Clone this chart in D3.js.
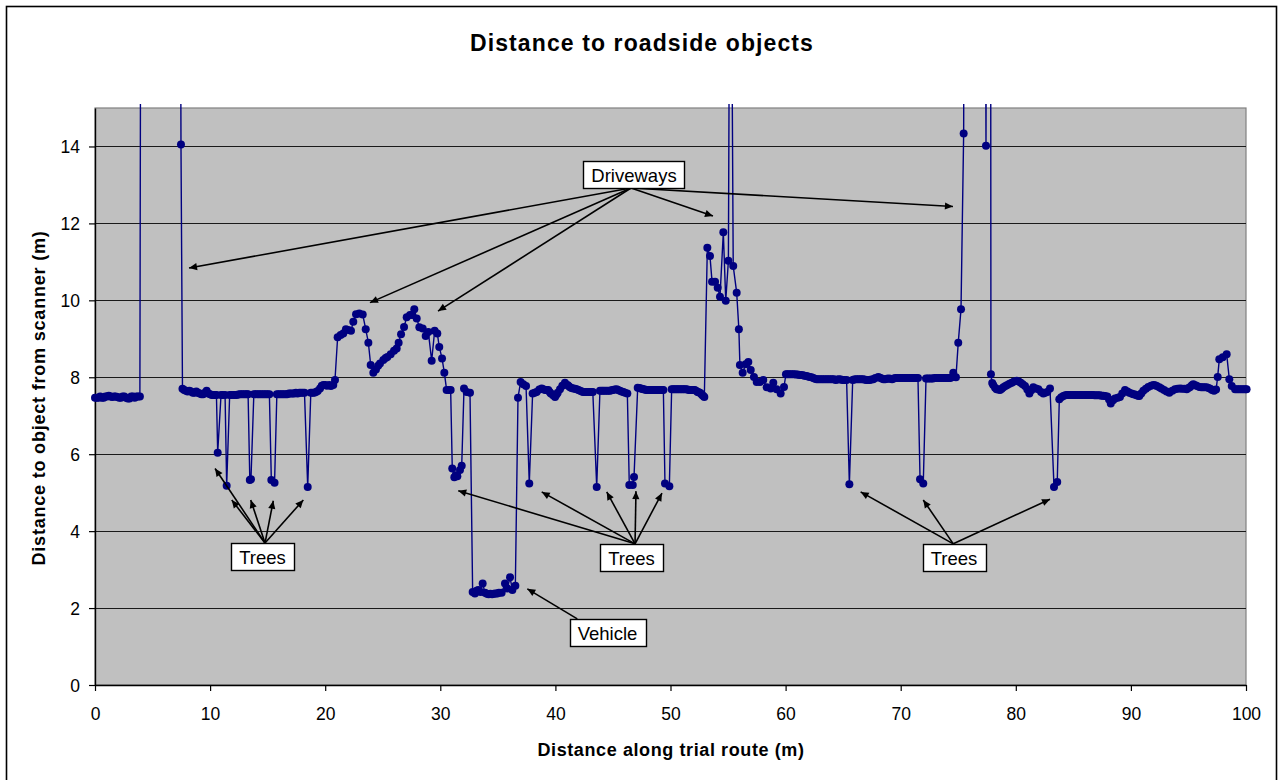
<!DOCTYPE html>
<html><head><meta charset="utf-8">
<script src="https://cdn.jsdelivr.net/npm/d3@7"></script>
<style>body{margin:0;background:#fff}svg{display:block;font-family:"Liberation Sans",Arial,sans-serif}</style>
</head><body><svg id="c" width="1284" height="780"></svg>
<script>
// ---- data: [distance along route (m), distance to object (m)] ----
const scanPoints = [
[0,7.47],[0.15,7.47],[0.3,7.47],[0.45,7.5],[0.6,7.47],[0.75,7.47],[0.9,7.5],[1.05,7.5],[1.2,7.52],[1.35,7.5],[1.5,7.49],[1.65,7.5],[1.8,7.5],[1.95,7.49],[2.1,7.47],[2.25,7.47],[2.4,7.5],[2.55,7.5],[2.7,7.47],[2.85,7.45],[3.0,7.45],[3.15,7.5],[3.3,7.5],[3.45,7.47],[3.6,7.5],[3.75,7.5],[3.9,7.5],
[4.0,24],[5.5,25],[7.38,24],
[7.47,14.05],[7.6,7.7],[7.75,7.67],[7.9,7.65],[8.05,7.63],[8.2,7.65],[8.35,7.63],[8.5,7.6],[8.65,7.6],[8.8,7.63],[8.95,7.6],[9.1,7.58],[9.25,7.56],[9.4,7.56],[9.55,7.6],[9.7,7.65],[9.85,7.58],[10.0,7.56],[10.15,7.54],[10.3,7.54],[10.45,7.54],[10.55,7.54],[10.66,6.04],[10.95,7.54],[11.1,7.54],[11.3,7.54],[11.44,5.18],[11.7,7.54],[11.85,7.54],[12.0,7.54],[12.15,7.54],[12.3,7.54],[12.45,7.55],[12.6,7.56],[12.75,7.56],[12.9,7.56],[13.05,7.56],[13.2,7.56],[13.3,7.56],[13.45,5.33],[13.55,5.35],[13.8,7.56],[13.95,7.56],[14.1,7.56],[14.25,7.56],[14.4,7.56],[14.55,7.56],[14.7,7.56],[14.85,7.56],[15.0,7.56],[15.15,7.56],[15.32,5.33],[15.6,5.26],[15.8,7.56],[15.95,7.56],[16.1,7.56],[16.25,7.56],[16.4,7.56],[16.55,7.56],[16.7,7.56],[16.85,7.58],[17.0,7.58],[17.15,7.58],[17.3,7.58],[17.45,7.6],[17.6,7.58],[17.75,7.6],[17.9,7.6],[18.05,7.6],[18.2,7.6],[18.48,5.15],[18.75,7.6],[18.9,7.6],[19.05,7.6],[19.2,7.62],[19.35,7.64],[19.55,7.71],[19.7,7.78],[19.85,7.8],[20.0,7.8],[20.15,7.78],[20.35,7.8],[20.5,7.77],[20.7,7.8],[20.85,7.93],
[21.08,9.04],[21.34,9.1],[21.57,9.14],[21.8,9.25],[22.0,9.23],[22.24,9.21],[22.44,9.44],[22.68,9.64],[22.96,9.66],[23.26,9.63],[23.52,9.25],[23.75,8.9],[23.95,8.32],[24.18,8.12],[24.41,8.2],[24.6,8.3],[24.76,8.36],[25.05,8.45],[25.25,8.5],[25.4,8.53],[25.69,8.6],[25.98,8.69],[26.21,8.75],[26.38,8.9],[26.59,9.12],[26.85,9.31],[27.08,9.56],[27.37,9.62],[27.55,9.62],[27.74,9.77],[27.95,9.53],[28.18,9.3],[28.47,9.27],[28.73,9.07],[28.96,9.18],[29.25,8.43],[29.51,9.21],[29.74,9.14],[29.91,8.79],[30.15,8.49],[30.35,8.12],[30.55,7.67],[30.75,7.67],[30.9,7.67],
[31.04,5.63],[31.22,5.4],[31.35,5.45],[31.48,5.43],[31.71,5.59],[31.86,5.7],[32.06,7.71],[32.29,7.62],[32.58,7.6],
[32.81,2.42],[33.01,2.38],[33.15,2.45],[33.3,2.47],[33.5,2.42],[33.68,2.64],[33.88,2.4],[34.05,2.37],[34.2,2.36],[34.35,2.37],[34.5,2.36],[34.65,2.37],[34.8,2.38],[34.95,2.38],[35.1,2.4],[35.33,2.4],[35.62,2.64],[35.83,2.51],[36.06,2.8],[36.26,2.47],[36.52,2.58],
[36.75,7.47],[36.98,7.88],[37.21,7.82],[37.45,7.77],[37.73,5.24],[38.02,7.58],[38.2,7.6],[38.37,7.62],[38.6,7.68],[38.81,7.71],[38.95,7.69],[39.1,7.67],[39.25,7.67],[39.38,7.67],[39.5,7.62],[39.6,7.58],[39.8,7.53],[39.97,7.49],[40.1,7.55],[40.2,7.6],[40.4,7.69],[40.6,7.78],[40.83,7.86],[41.05,7.8],[41.15,7.77],[41.27,7.74],[41.4,7.72],[41.55,7.71],[41.7,7.7],[41.85,7.69],[42.0,7.67],[42.15,7.65],[42.3,7.63],[42.42,7.62],[42.55,7.62],[42.7,7.62],[42.85,7.62],[43.0,7.62],[43.12,7.62],[43.25,7.62],[43.59,5.15],[43.87,7.65],[44.02,7.65],[44.15,7.65],[44.3,7.65],[44.45,7.65],[44.6,7.65],[44.74,7.65],[44.88,7.66],[45.0,7.67],[45.15,7.68],[45.32,7.69],[45.45,7.67],[45.6,7.65],[45.75,7.63],[45.9,7.62],[46.05,7.6],[46.25,7.58],[46.42,5.2],[46.72,5.2],[46.83,5.41],[47.15,7.73],[47.28,7.72],[47.4,7.71],[47.52,7.7],[47.64,7.69],[47.77,7.68],[47.9,7.67],[48.02,7.67],[48.15,7.67],[48.28,7.67],[48.4,7.67],[48.52,7.67],[48.65,7.67],[48.78,7.67],[48.9,7.67],[49.02,7.67],[49.15,7.67],[49.27,7.67],[49.38,7.67],[49.52,5.24],[49.9,5.17],[50.1,7.69],[50.22,7.69],[50.35,7.69],[50.48,7.69],[50.6,7.69],[50.72,7.69],[50.85,7.69],[50.98,7.69],[51.1,7.69],[51.22,7.69],[51.35,7.69],[51.48,7.68],[51.6,7.67],[51.72,7.67],[51.85,7.67],[51.98,7.67],[52.1,7.67],[52.22,7.65],[52.35,7.62],[52.45,7.61],[52.56,7.6],[52.65,7.57],[52.75,7.54],[52.85,7.51],[52.94,7.49],
[53.2,11.37],[53.43,11.15],[53.61,10.48],[53.87,10.48],[54.1,10.33],[54.3,10.09],[54.59,11.77],[54.8,9.99],[55.03,11.03],[55.2,24],[55.45,10.89],[55.75,10.2],[55.94,9.25],[56.03,8.32],[56.27,8.12],[56.53,8.34],[56.76,8.4],[56.97,8.19],[57.25,8.01],[57.49,7.88],[57.77,7.88],[58.06,7.93],[58.36,7.74],[58.7,7.71],[58.93,7.86],[59.22,7.69],[59.57,7.58],[59.86,7.75],
[60.03,8.08],[60.15,8.08],[60.3,8.08],[60.45,8.08],[60.6,8.08],[60.75,8.08],[60.9,8.07],[61.05,8.07],[61.2,8.06],[61.35,8.06],[61.5,8.05],[61.65,8.04],[61.8,8.03],[61.95,8.02],[62.1,8.01],[62.25,8.0],[62.4,7.98],[62.55,7.96],[62.7,7.95],[62.85,7.95],[63.0,7.95],[63.15,7.95],[63.3,7.95],[63.45,7.95],[63.6,7.95],[63.75,7.95],[63.9,7.95],[64.05,7.95],[64.2,7.95],[64.35,7.93],[64.5,7.94],[64.65,7.95],[64.8,7.94],[64.95,7.93],[65.1,7.93],[65.3,7.93],[65.54,5.22],[65.83,7.93],[65.95,7.94],[66.1,7.95],[66.25,7.95],[66.4,7.95],[66.55,7.95],[66.7,7.95],[66.85,7.94],[67.0,7.93],[67.15,7.93],[67.3,7.93],[67.45,7.94],[67.62,7.95],[67.8,7.98],[68.05,8.01],[68.2,7.99],[68.35,7.97],[68.5,7.95],[68.65,7.95],[68.8,7.96],[68.95,7.97],[69.1,7.96],[69.25,7.95],[69.4,7.97],[69.55,7.98],[69.7,7.98],[69.85,7.98],[70.0,7.98],[70.15,7.98],[70.3,7.98],[70.45,7.98],[70.6,7.98],[70.75,7.98],[70.9,7.98],[71.05,7.98],[71.2,7.98],[71.35,7.98],[71.5,7.98],[71.68,5.35],[71.96,5.24],[72.2,7.97],[72.35,7.97],[72.5,7.97],[72.65,7.97],[72.8,7.97],[72.95,7.98],[73.1,7.98],[73.25,7.98],[73.4,7.98],[73.55,7.98],[73.7,7.98],[73.85,7.98],[74.0,7.98],[74.15,7.98],[74.3,7.98],[74.45,8.0],[74.57,8.12],[74.8,8.0],[75.0,8.9],[75.24,9.77],[75.47,14.34],
[75.55,26],[77.3,26],[77.41,14.02],[77.5,26],[77.8,26],
[77.84,8.08],[77.95,7.85],[78.04,7.8],[78.2,7.73],[78.33,7.69],[78.48,7.68],[78.63,7.67],[78.78,7.7],[78.92,7.74],[79.1,7.77],[79.26,7.8],[79.45,7.83],[79.65,7.86],[79.85,7.89],[80.08,7.91],[80.25,7.89],[80.43,7.86],[80.6,7.82],[80.8,7.77],[81.0,7.68],[81.18,7.58],[81.35,7.66],[81.52,7.74],[81.75,7.71],[81.96,7.69],[82.2,7.62],[82.39,7.58],[82.55,7.6],[82.74,7.62],[82.97,7.71],[83.32,5.15],[83.6,5.28],
[83.78,7.43],[83.95,7.48],[84.13,7.51],[84.3,7.53],[84.45,7.54],[84.6,7.54],[84.75,7.54],[84.9,7.54],[85.05,7.54],[85.2,7.54],[85.35,7.54],[85.5,7.54],[85.65,7.54],[85.8,7.54],[85.95,7.54],[86.1,7.54],[86.25,7.54],[86.4,7.54],[86.55,7.54],[86.7,7.54],[86.85,7.53],[87.0,7.53],[87.15,7.53],[87.3,7.53],[87.45,7.52],[87.6,7.52],[87.75,7.51],[87.95,7.5],[88.1,7.42],[88.25,7.32],[88.45,7.4],[88.62,7.45],[88.85,7.47],[89.05,7.49],[89.25,7.58],[89.49,7.67],[89.7,7.63],[89.86,7.6],
[90.05,7.58],[90.21,7.56],[90.35,7.55],[90.5,7.53],[90.62,7.52],[90.73,7.51],[90.9,7.58],[91.08,7.65],[91.3,7.7],[91.51,7.75],[91.75,7.78],[91.95,7.8],[92.1,7.79],[92.25,7.77],[92.47,7.74],[92.65,7.71],[92.88,7.67],[93.1,7.63],[93.34,7.6],[93.6,7.65],[93.83,7.69],[94.05,7.7],[94.27,7.71],[94.45,7.7],[94.65,7.7],[94.85,7.69],[95.0,7.72],[95.15,7.75],[95.3,7.79],[95.42,7.82],[95.6,7.79],[95.75,7.77],[95.95,7.75],[96.1,7.74],[96.25,7.74],[96.4,7.74],[96.58,7.74],[96.75,7.72],[96.9,7.7],[97.05,7.67],[97.22,7.65],[97.4,7.68],
[97.54,8.01],[97.68,8.47],[97.98,8.52],[98.32,8.6],[98.55,7.95],[98.76,7.77],[99.05,7.69],[99.2,7.69],[99.35,7.69],[99.5,7.69],[99.65,7.69],[99.8,7.69],[99.95,7.69],[100.05,7.69]
];
const xTicks = [0,10,20,30,40,50,60,70,80,90,100];
const yTicks = [0,2,4,6,8,10,12,14];
const chartTitle = "Distance to roadside objects";
const xTitle = "Distance along trial route (m)";
const yTitle = "Distance to object from scanner (m)";

// annotations (data units, metres)
const noteLabels = ["Driveways","Trees","Trees","Trees","Vehicle"];
const noteBoxX   = [46.83, 14.55, 46.61, 74.63, 44.53];
const noteBoxTop = [13.62, 3.69, 3.67, 3.67, 1.72];
const noteFromX  = [46.57, 14.77, 46.92, 74.57, 41.9];
const noteFromY  = [12.92, 3.69, 3.67, 3.67, 1.72];
const noteTargets = [
  [[8.17,10.84],[23.89,9.94],[29.8,9.72],[53.69,12.19],[74.54,12.44]],
  [[10.43,5.63],[11.88,4.81],[13.53,4.81],[15.49,4.79],[18.1,4.81]],
  [[31.56,5.05],[38.81,5.02],[44.46,5.02],[47.0,5.04],[49.26,4.99]],
  [[66.52,5.02],[71.96,4.81],[82.97,4.83]],
  [[37.56,2.5]]
];

// ---- drawing ----
const svg = d3.select("#c");
const x = d3.scaleLinear().domain([0,100]).range([95,1246]);
const y = d3.scaleLinear().domain([0,15]).range([685,108]);

svg.append("rect").attr("x",6.5).attr("y",6.5).attr("width",1270).attr("height",800)
  .attr("fill","#fff").attr("stroke","#000").attr("stroke-width",1.6);

svg.append("rect").attr("x",x(0)).attr("y",y(15)).attr("width",x(100)-x(0)).attr("height",y(0)-y(15))
  .attr("fill","#c0c0c0").attr("stroke","#808080").attr("stroke-width",1.2);

svg.append("g").selectAll("line").data(yTicks.filter(d=>d>0)).join("line")
  .attr("x1",x(0)).attr("x2",x(100))
  .attr("y1",d=>Math.round(y(d))+0.5).attr("y2",d=>Math.round(y(d))+0.5)
  .attr("stroke","#1a1a1a").attr("stroke-width",1.2);

const yAxis = svg.append("g").attr("transform",`translate(${x(0)},0)`)
  .call(d3.axisLeft(y).tickValues(yTicks).tickSizeInner(6).tickSizeOuter(0).tickPadding(9).tickFormat(d3.format("d")));
const xAxis = svg.append("g").attr("transform",`translate(0,${y(0)})`)
  .call(d3.axisBottom(x).tickValues(xTicks).tickSizeInner(6).tickSizeOuter(0).tickPadding(17).tickFormat(d3.format("d")));
[yAxis,xAxis].forEach(g=>{
  g.selectAll("path.domain").attr("stroke","#000").attr("stroke-width",1.4);
  g.selectAll(".tick line").attr("stroke","#000").attr("stroke-width",1.2);
  g.selectAll(".tick text").attr("fill","#000").style("font-size","17.5px").style("font-family",'"Liberation Sans",Arial,sans-serif');
});
yAxis.selectAll(".tick text").attr("dy","0.36em");

// series
svg.append("defs").append("clipPath").attr("id","clipTop").append("rect")
  .attr("x",0).attr("y",104).attr("width",1284).attr("height",600);
const series = svg.append("g").attr("clip-path","url(#clipTop)");
series.append("path").datum(scanPoints)
  .attr("d",d3.line().x(d=>x(d[0])).y(d=>y(d[1])))
  .attr("fill","none").attr("stroke","#000080").attr("stroke-width",1.4);
series.selectAll("circle").data(scanPoints).join("circle")
  .attr("cx",d=>x(d[0])).attr("cy",d=>y(d[1])).attr("r",4).attr("fill","#000080");

// arrows
const defs = svg.select("defs");
defs.append("marker").attr("id","ah").attr("viewBox","0 0 10 10").attr("refX",10).attr("refY",5)
  .attr("markerWidth",10).attr("markerHeight",8).attr("markerUnits","userSpaceOnUse").attr("orient","auto")
  .append("path").attr("d","M0,0.5 L10,5 L0,9.5 Z").attr("fill","#000");
const notes = noteLabels.map((t,i)=>({t,bx:noteBoxX[i],bt:noteBoxTop[i],fx:noteFromX[i],fy:noteFromY[i],tg:noteTargets[i]}));
const arrowG = svg.append("g");
notes.forEach(n=>{
  n.tg.forEach(p=>{
    arrowG.append("line").attr("x1",x(n.fx)).attr("y1",y(n.fy)).attr("x2",x(p[0])).attr("y2",y(p[1]))
      .attr("stroke","#000").attr("stroke-width",1.6).attr("marker-end","url(#ah)");
  });
});
const boxG = svg.append("g");
notes.forEach(n=>{
  const g = boxG.append("g");
  const r = g.append("rect");
  const tx = g.append("text").attr("x",x(n.bx)).attr("y",y(n.bt)+21).attr("text-anchor","middle")
    .style("font-size","18.5px").attr("fill","#000").text(n.t);
  const bb = tx.node().getBBox();
  r.attr("x",Math.round(x(n.bx)-bb.width/2-8)+0.5).attr("y",Math.round(y(n.bt))+0.5)
   .attr("width",Math.round(bb.width+16)).attr("height",27)
   .attr("fill","#fff").attr("stroke","#000").attr("stroke-width",1.4);
});

// titles
svg.append("text").attr("x",642).attr("y",51).attr("text-anchor","middle")
  .style("font-size","23px").style("font-weight","bold").style("letter-spacing","1.1px").text(chartTitle);
svg.append("text").attr("x",671).attr("y",756).attr("text-anchor","middle")
  .style("font-size","18px").style("font-weight","bold").style("letter-spacing","0.6px").text(xTitle);
svg.append("text").attr("transform","translate(45,398) rotate(-90)").attr("text-anchor","middle")
  .style("font-size","18px").style("font-weight","bold").style("letter-spacing","0.8px").text(yTitle);
</script></body></html>
